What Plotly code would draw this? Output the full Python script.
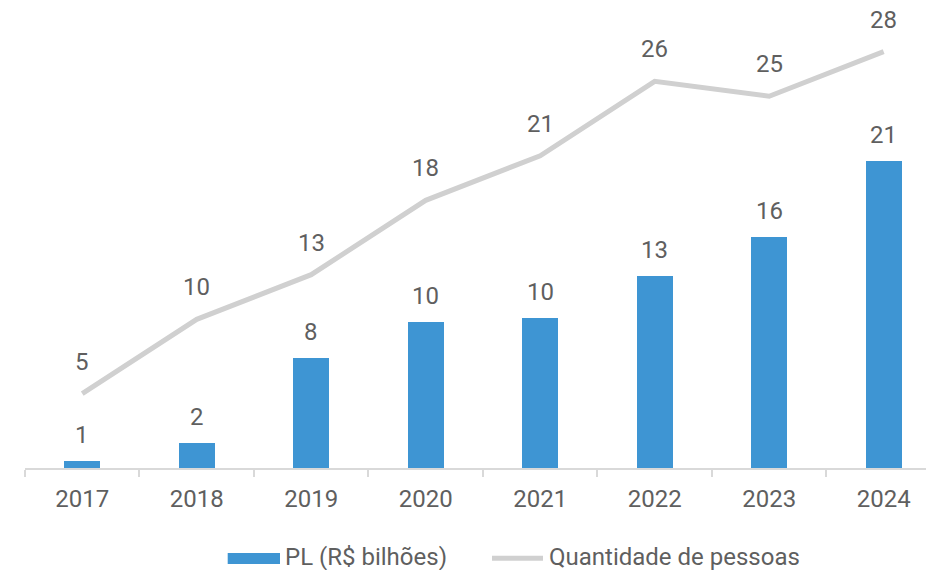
import plotly.graph_objects as go

years = ["2017", "2018", "2019", "2020", "2021", "2022", "2023", "2024"]
pl_values = [0.5, 1.7, 7.55, 10.0, 10.3, 13.15, 15.8, 21.05]
pl_labels = ["1", "2", "8", "10", "10", "13", "16", "21"]
pessoas = [5, 10, 13, 18, 21, 26, 25, 28]
pessoas_labels = ["5", "10", "13", "18", "21", "26", "25", "28"]

BLUE = "#3E95D3"
GREY_LINE = "#D0D0D0"
TEXT = "#5F5F5F"
FONT = "Roboto"
FS = 24

fig = go.Figure()
fig.add_trace(go.Bar(x=years, y=pl_values, marker=dict(color=BLUE, line=dict(width=0)),
                     width=0.315, name="PL (R$ bilhões)", yaxis="y", showlegend=False))
fig.add_trace(go.Scatter(x=years, y=pessoas, mode="lines",
                         line=dict(color=GREY_LINE, width=5), name="Quantidade de pessoas",
                         yaxis="y2", showlegend=False, cliponaxis=False))

annotations = []
for i, (v, t) in enumerate(zip(pl_values, pl_labels)):
    annotations.append(dict(x=i, y=v, xref="x", yref="y", text=t, showarrow=False,
                            yanchor="middle", yshift=26,
                            font=dict(family=FONT, size=FS, color=TEXT)))
for i, (v, t) in enumerate(zip(pessoas, pessoas_labels)):
    annotations.append(dict(x=i, y=v, xref="x", yref="y2", text=t, showarrow=False,
                            yanchor="middle", yshift=32,
                            font=dict(family=FONT, size=FS, color=TEXT)))

# manual legend
L, W, H, PH = 25, 901, 468, 468
def xp(px):
    return (px - L) / W
def yp(py):
    return (H - py) / PH

shapes = [
    dict(type="rect", xref="paper", yref="paper", x0=xp(227.7), x1=xp(280), y0=yp(564), y1=yp(553),
         fillcolor=BLUE, line=dict(width=0)),
    dict(type="line", xref="paper", yref="paper", x0=xp(492), x1=xp(543), y0=yp(558.3), y1=yp(558.3),
         line=dict(color=GREY_LINE, width=5)),
]
annotations.append(dict(x=xp(283), y=yp(557), xref="paper", yref="paper", text="PL (R$ bilhões)",
                        showarrow=False, xanchor="left", yanchor="middle",
                        font=dict(family=FONT, size=FS, color=TEXT)))
annotations.append(dict(x=xp(547), y=yp(557), xref="paper", yref="paper", text="Quantidade de pessoas",
                        showarrow=False, xanchor="left", yanchor="middle",
                        font=dict(family=FONT, size=FS, color=TEXT)))

fig.update_layout(
    width=926, height=570,
    margin=dict(l=L, r=0, t=0, b=570 - H),
    paper_bgcolor="white", plot_bgcolor="white",
    font=dict(family=FONT, size=FS, color=TEXT),
    xaxis=dict(type="category", range=[-0.5, 7.37], showgrid=False, zeroline=False,
               showline=True, linecolor="#D9D9D9", linewidth=1.5,
               ticks="outside", tickson="boundaries", ticklen=7, tickwidth=1.5, tickcolor="#D9D9D9",
               tickfont=dict(family=FONT, size=FS, color=TEXT), ticklabelstandoff=8),
    yaxis=dict(range=[0, 468 / 14.6], visible=False, showgrid=False, zeroline=False),
    yaxis2=dict(range=[0, 468 / 14.87], visible=False, overlaying="y", showgrid=False, zeroline=False),
    shapes=shapes,
    annotations=annotations,
    bargap=0,
)

fig.write_html("out.html", config={"displayModeBar": False},
               post_script="document.body.style.margin='0';")
